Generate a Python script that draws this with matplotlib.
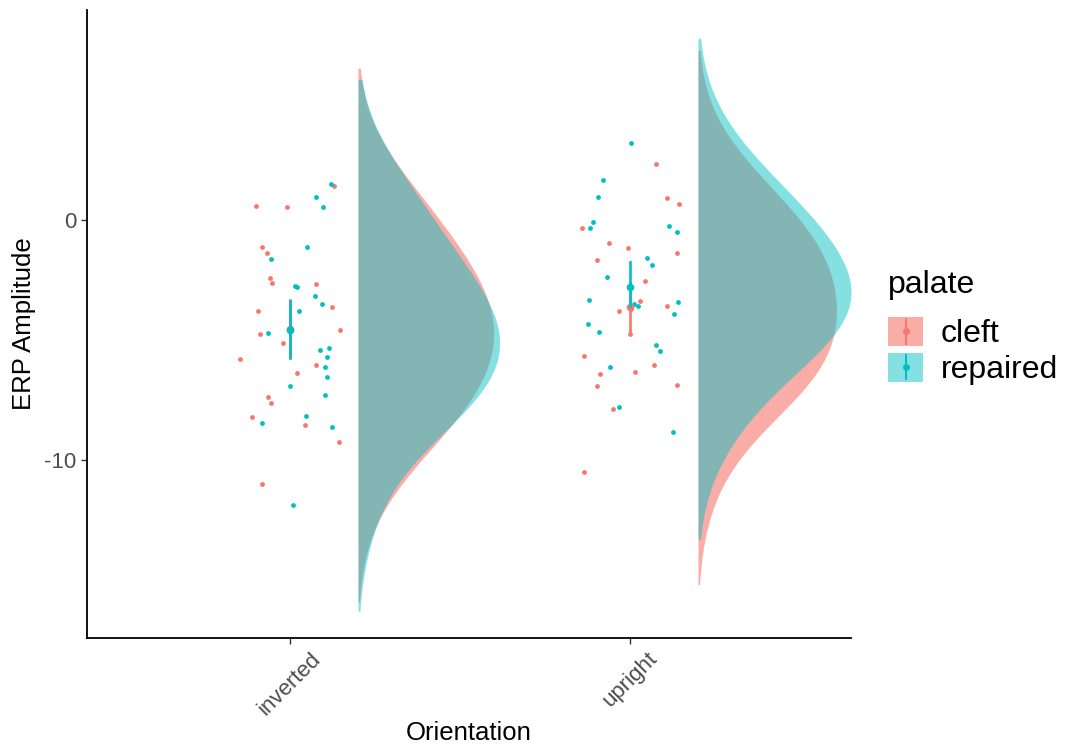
import numpy as np
import matplotlib
matplotlib.use("Agg")
import matplotlib.pyplot as plt
from matplotlib.patches import Rectangle
from matplotlib.lines import Line2D
from matplotlib.legend_handler import HandlerBase

plt.rcParams['font.family'] = ['Liberation Sans', 'DejaVu Sans']

orientations = ["inverted", "upright"]
palates = ["cleft", "repaired"]
colors = {"cleft": "#F8766D", "repaired": "#00BFC4"}
fill_alpha = {"cleft": 0.6, "repaired": 0.48}

# ERP amplitude per subject and the jitter offsets of the dots
inv_cleft = [1.42, 0.60, 0.53, -1.13, -1.36, -2.40, -2.64, -2.67, -3.61, -3.78, -4.57,
             -4.76, -5.13, -5.78, -6.04, -6.38, -7.36, -7.61, -8.19, -8.54, -9.25, -10.99]
inv_cleft_jit = [0.130, -0.100, -0.010, -0.081, -0.068, -0.059, -0.054, 0.076, 0.124, -0.095, 0.148,
                 -0.088, -0.021, -0.148, 0.076, 0.021, -0.065, -0.056, -0.113, 0.045, 0.143, -0.083]
inv_rep = [1.50, 0.94, 0.53, -1.11, -1.63, -2.76, -2.81, -3.17, -3.51, -3.78, -4.72,
           -5.42, -5.35, -5.72, -6.13, -6.53, -6.90, -7.31, -8.18, -8.47, -8.61, -11.88]
inv_rep_jit = [0.121, 0.077, 0.098, 0.050, -0.056, 0.015, 0.021, 0.074, 0.094, 0.026, -0.065,
               0.087, 0.114, 0.109, 0.102, 0.109, 0.000, 0.104, 0.046, -0.083, 0.124, 0.010]
up_cleft = [2.33, 0.93, 0.67, -0.32, -0.96, -1.17, -1.38, -1.68, -2.54, -3.36, -3.58,
            -3.79, -4.74, -5.68, -6.42, -6.35, -6.06, -6.93, -6.88, -7.86, -10.49, -3.70]
up_cleft_jit = [0.077, 0.108, 0.143, -0.142, -0.061, -0.007, 0.137, -0.098, 0.044, 0.029, 0.108,
                -0.032, -0.001, -0.135, -0.089, 0.016, 0.071, -0.098, 0.138, -0.051, -0.136, 0.002]
up_rep = [3.19, 1.67, 0.94, -0.10, -0.32, -0.24, -0.49, -1.60, -1.88, -2.38, -3.32,
          -3.42, -3.50, -3.57, -3.92, -4.32, -4.65, -5.21, -5.44, -6.13, -7.79, -8.83]
up_rep_jit = [0.003, -0.079, -0.094, -0.110, -0.119, 0.115, 0.138, 0.049, 0.064, -0.067, -0.120,
              0.141, 0.012, 0.024, 0.130, -0.123, -0.091, 0.076, 0.087, -0.059, -0.031, 0.126]

values = {("inverted", "cleft"): inv_cleft, ("inverted", "repaired"): inv_rep,
          ("upright", "cleft"): up_cleft, ("upright", "repaired"): up_rep}
jitter = {("inverted", "cleft"): inv_cleft_jit, ("inverted", "repaired"): inv_rep_jit,
          ("upright", "cleft"): up_cleft_jit, ("upright", "repaired"): up_rep_jit}
# violin extents (bottom, top) and error bar ends
violin_lo = {("inverted", "cleft"): -15.9, ("inverted", "repaired"): -16.3,
             ("upright", "cleft"): -15.2, ("upright", "repaired"): -13.3}
violin_hi = {("inverted", "cleft"): 6.33, ("inverted", "repaired"): 5.86,
             ("upright", "cleft"): 7.05, ("upright", "repaired"): 7.57}
err_lo = {("inverted", "cleft"): -5.73, ("inverted", "repaired"): -5.75,
          ("upright", "cleft"): -4.74, ("upright", "repaired"): -3.60}
err_hi = {("inverted", "cleft"): -3.35, ("inverted", "repaired"): -3.375,
          ("upright", "cleft"): -2.62, ("upright", "repaired"): -1.74}
bw = 2.3


def kde(data, lo, hi, n=512):
    data = np.asarray(data)
    grid = np.linspace(lo, hi, n)
    d = np.exp(-0.5 * ((grid[:, None] - data[None, :]) / bw) ** 2).sum(axis=1)
    d = d / (len(data) * bw * np.sqrt(2 * np.pi))
    return grid, d


fig = plt.figure(figsize=(10.73, 7.45), dpi=100)
ax = fig.add_axes([87 / 1073, 107 / 745, 764 / 1073, 628 / 745])

dens = {k: kde(values[k], violin_lo[k], violin_hi[k]) for k in values}
dmax = max(d.max() for _, d in dens.values())
nudge = 0.2
half_width = 0.45

# flat violins
for i, o in enumerate(orientations):
    x0 = i + 1 + nudge
    for p in palates:
        g, d = dens[(o, p)]
        ax.fill_betweenx(g, x0, x0 + d / dmax * half_width, color=colors[p],
                         alpha=fill_alpha[p], lw=0, zorder=1)

# raw points
for i, o in enumerate(orientations):
    for p in palates:
        xs = i + 1 + np.array(jitter[(o, p)])
        ax.scatter(xs, values[(o, p)], s=12, color=colors[p], lw=0, zorder=3)

# mean + interval
for i, o in enumerate(orientations):
    for p in palates:
        m = np.mean(values[(o, p)])
        ax.plot([i + 1, i + 1], [err_lo[(o, p)], err_hi[(o, p)]], color=colors[p], lw=1.9, zorder=4)
        ax.plot([i + 1], [m], "o", color=colors[p], ms=5.5, mew=0, zorder=4)

ax.set_xlim(0.403, 2.65)
ax.set_ylim(-17.42, 8.75)
ax.set_xticks([1, 2])
ax.set_xticklabels(orientations, rotation=45, ha="center", va="top", fontsize=16, color="#4D4D4D")
ax.set_yticks([-10, 0])
ax.set_yticklabels(["-10", "0"], fontsize=16, color="#4D4D4D")
ax.tick_params(length=4, width=1, color="#333333")
for s in ["top", "right"]:
    ax.spines[s].set_visible(False)
for s in ["left", "bottom"]:
    ax.spines[s].set_linewidth(1.3)
ax.set_xlabel("Orientation", fontsize=18.5, labelpad=1)
ax.set_ylabel("ERP Amplitude", fontsize=18.5, labelpad=6)


class Key:
    def __init__(self, p):
        self.p = p


class KeyHandler(HandlerBase):
    def create_artists(self, legend, orig, xdescent, ydescent, width, height, fontsize, trans):
        c = colors[orig.p]
        r = Rectangle((-xdescent, -ydescent), width, height, fc=c, alpha=fill_alpha[orig.p],
                      lw=0, transform=trans)
        cx = -xdescent + width / 2
        ln = Line2D([cx, cx], [-ydescent + 2, -ydescent + height - 2], color=c, lw=1.4, transform=trans)
        dot = Line2D([cx], [-ydescent + height / 2], marker="o", ms=5, mew=0, color=c, transform=trans)
        return [r, ln, dot]


keys = [Key(p) for p in palates]
leg = fig.legend(keys, palates, handler_map={Key: KeyHandler()}, title="palate",
                 loc="upper left", bbox_to_anchor=(888 / 1073, 1 - 270 / 745),
                 frameon=False, fontsize=23, title_fontsize=23, borderpad=0, borderaxespad=0,
                 handlelength=1.1, handleheight=1.05, handletextpad=0.55,
                 labelspacing=0.1, alignment="left")
leg._legend_box.sep = 12

fig.savefig("out.png", dpi=100)
